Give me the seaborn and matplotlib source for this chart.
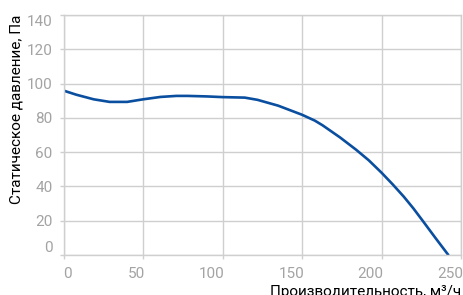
import pandas as pd
import matplotlib
matplotlib.use('Agg')
import matplotlib.pyplot as plt
import matplotlib.transforms as mtransforms
import seaborn as sns

# Fan curve: airflow (m3/h) vs static pressure (Pa)
airflow = [0, 8, 19, 29, 40, 50, 61, 71, 78, 90, 100, 114, 122, 135, 150,
           158, 163, 174, 184, 192, 200, 207, 214, 220, 226, 234, 242]
pressure = [95.9, 93.5, 90.8, 89.3, 89.3, 90.8, 92.2, 92.8, 92.8, 92.5, 92.1,
            91.8, 90.5, 87.1, 81.8, 78.4, 75.6, 68.5, 61.4, 55.2, 48, 41.2,
            34, 27.2, 19.8, 9.8, 0]
x_ticks = [0, 50, 100, 150, 200, 250]
y_ticks = [0, 20, 40, 60, 80, 100, 120, 140]
x_title = 'Производительность, м³/ч'
y_title = 'Статическое давление, Па'

data = pd.DataFrame({'airflow': airflow, 'pressure': pressure})

sns.set_style('whitegrid')
plt.rcParams['font.family'] = ['Roboto', 'DejaVu Sans']

fig = plt.figure(figsize=(4.64, 2.95), dpi=100)
ax = fig.add_axes([0.137, 0.136, 0.9935 - 0.137, 0.949 - 0.136])

sns.lineplot(data=data, x='airflow', y='pressure', color='#0a4ea0', linewidth=1.9, ax=ax)

ax.set_xlim(0, 250)
ax.set_ylim(0, 140)
ax.set_xticks(x_ticks)
ax.set_yticks(y_ticks)
ax.grid(True, color='#cfcfcf', linewidth=1.0)
for s in ax.spines.values():
    s.set_color('#cfcfcf')
    s.set_linewidth(1.0)
ax.spines['top'].set_visible(True)
ax.spines['right'].set_visible(True)

ax.tick_params(axis='both', colors='#cfcfcf', length=3, width=1.0,
               labelcolor='#a3a3a3', labelsize=11)
ax.tick_params(axis='x', pad=6)
ax.tick_params(axis='y', pad=5)
ax.tick_params(bottom=True, left=True)

# edge labels are kept inside the plot like the original
ylabels = ax.get_yticklabels()
ylabels[0].set_va('bottom')
ylabels[-1].set_va('top')
# x labels sit just left of their ticks (right aligned), the first one starts at the axis
shift = mtransforms.ScaledTranslation(2 / 100, 0, fig.dpi_scale_trans)
xlabels = ax.get_xticklabels()
for i, lab in enumerate(xlabels):
    if i == 0:
        lab.set_ha('left')
    else:
        lab.set_ha('right')
        lab.set_transform(lab.get_transform() + shift)

ax.set_xlabel(x_title, fontsize=11, color='black', loc='right', labelpad=2.5)
ax.set_ylabel(y_title, fontsize=11, color='black', loc='top', labelpad=2)

fig.savefig('out.png', dpi=100)
